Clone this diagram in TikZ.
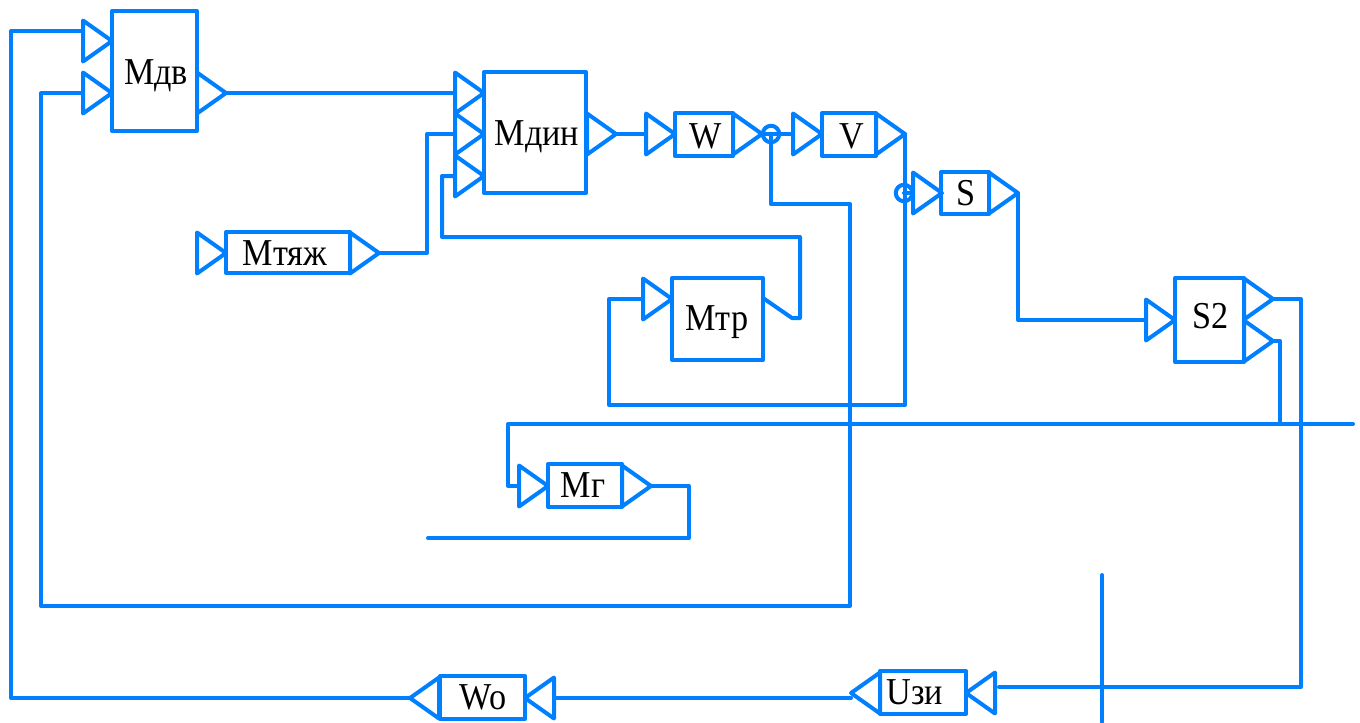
\documentclass[tikz,border=0pt]{standalone}
\usepackage{fontspec}
\usepackage{graphicx}
\setmainfont{Liberation Serif}
\usetikzlibrary{shapes.geometric}
\definecolor{wire}{HTML}{0080FF}
\def\pxu{0.75pt}
\tikzset{
  all/.style={draw=wire,line width=3pt,line join=round},
  blk/.style={all,rectangle,inner sep=0pt,outer sep=0pt},
  triR/.style={all,isosceles triangle,isosceles triangle stretches,inner sep=0pt,outer sep=0pt,
    minimum width=41*\pxu,minimum height=29*\pxu,anchor=apex},
  triL/.style={triR,shape border rotate=180},
  junc/.style={all,circle,inner sep=0pt,outer sep=0pt,minimum size=16.5*\pxu},
  wirepath/.style={draw=wire,line width=3pt,line join=round,line cap=round},
  lbl/.style={font=\fontsize{28.5pt}{30pt}\selectfont,anchor=base,inner sep=0pt,text=black},
}
\newcommand{\blockbox}[5]{\node[blk,minimum width={(#4-#2)*\pxu},minimum height={(#5-#3)*\pxu}] (#1) at ({(#2+#4)/2},{(#3+#5)/2}) {};}
\newcommand{\boxtext}[4]{\node[lbl] (#1) at (#2,#3) {\scalebox{0.9}[1]{#4}};}
\begin{document}
\begin{tikzpicture}[x=\pxu,y=-\pxu]
\useasboundingbox (0,0) rectangle (1360,722);
% blocks
\blockbox{mdv}{112}{11}{197}{131}
\blockbox{mdin}{484}{72}{586}{193}
\blockbox{mtyazh}{226}{232}{350}{273}
\blockbox{w}{675}{113}{733}{156}
\blockbox{v}{822}{113}{876}{156}
\blockbox{s}{941}{172}{989}{214}
\blockbox{mtr}{672}{278}{763}{360}
\blockbox{stwo}{1175}{278}{1244}{362}
\blockbox{mg}{548}{464}{622}{507}
\blockbox{wo}{440}{676}{525}{719}
\blockbox{uzi}{880}{671}{966}{714}
% triangles
\node[triR] (mdvA) at (112,41) {};
\node[triR] (mdvB) at (112,93) {};
\node[triR] (mdvO) at (226,93) {};
\node[triR] (dinA) at (484,93) {};
\node[triR] (dinB) at (484,134) {};
\node[triR] (dinC) at (484,176) {};
\node[triR] (dinO) at (616,134) {};
\node[triR] (tyI) at (226,253) {};
\node[triR] (tyO) at (379,253) {};
\node[triR] (wI) at (675,134) {};
\node[triR] (wO) at (762,134) {};
\node[triR] (vI) at (822,134) {};
\node[triR] (vO) at (905,134) {};
\node[triR] (sI) at (942,193) {};
\node[triR] (sO) at (1018,193) {};
\node[triR] (trI) at (672,299) {};
\node[triR] (stI) at (1175,320) {};
\node[triR] (stA) at (1273,299) {};
\node[triR] (stB) at (1273,341) {};
\node[triR] (mgI) at (548,486) {};
\node[triR] (mgO) at (651,486) {};
\node[triL] (woO) at (410,698) {};
\node[triL] (woI) at (525,698) {};
\node[triL] (uzO) at (851,693) {};
\node[triL] (uzI) at (966,693) {};
% junctions
\node[junc] (jw) at (771,134) {};
\node[junc] (jv) at (904,193) {};
% free ends
\coordinate (mdvIn) at (82,31);
\coordinate (uzIn) at (999,687);
\coordinate (mgEnd) at (428,538);
\coordinate (busEnd) at (1353,424);
\coordinate (crossT) at (1102,575);
\coordinate (crossB) at (1102,722);
\coordinate (trOut) at (763,298);
% connectors
\draw[wirepath] (mdvO.apex) -- (dinA.lower side);
\draw[wirepath] (dinO.apex) -- (wI.lower side);
\draw[wirepath] (wO.apex) -- (vI.lower side);
\draw[wirepath] (tyO.apex) -- (427,253) -- (427,134) -- (dinB.lower side);
\draw[wirepath] (trOut) -- (792,318) -- (800,318) -- (800,237) -- (442,237) -- (442,176) -- (dinC.lower side);
\draw[wirepath] (vO.apex) -- (905,405) -- (609,405) -- (609,299) -- (trI.lower side);
\draw[wirepath] (jv.center) -- (sI.lower side);
\draw[wirepath] (sO.apex) -- (1018,320) -- (stI.lower side);
\draw[wirepath] (jw.center) -- (771,204) -- (850,204) -- (850,606) -- (41,606) -- (41,93) -- (mdvB.lower side);
\draw[wirepath] (stA.apex) -- (1301,299) -- (1301,687) -- (uzIn);
\draw[wirepath] (stB.apex) -- (1280,341) -- (1280,424);
\draw[wirepath] (busEnd) -- (508,424) -- (508,486) -- (mgI.lower side);
\draw[wirepath] (mgO.apex) -- (689,486) -- (689,538) -- (mgEnd);
\draw[wirepath] (crossT) -- (crossB);
\draw[wirepath] (uzO.apex |- woI.lower side) -- (woI.lower side);
\draw[wirepath] (woO.apex) -- (11,698) -- (11,31) -- (mdvIn);
% labels
\boxtext{tmdv}{156}{84}{Мдв}
\boxtext{tmdin}{537}{145}{Мдин}
\boxtext{tty}{285}{265}{Мтяж}
\boxtext{tw}{706}{148}{W}
\boxtext{tv}{852}{148}{V}
\boxtext{ts}{966}{205}{S}
\boxtext{ttr}{717}{330}{Мтр}
\boxtext{tst}{1211}{328}{S2}
\boxtext{tmg}{583}{497}{Мг}
\boxtext{two}{483}{709}{Wo}
\boxtext{tuz}{915}{704}{Uзи}
\end{tikzpicture}
\end{document}
